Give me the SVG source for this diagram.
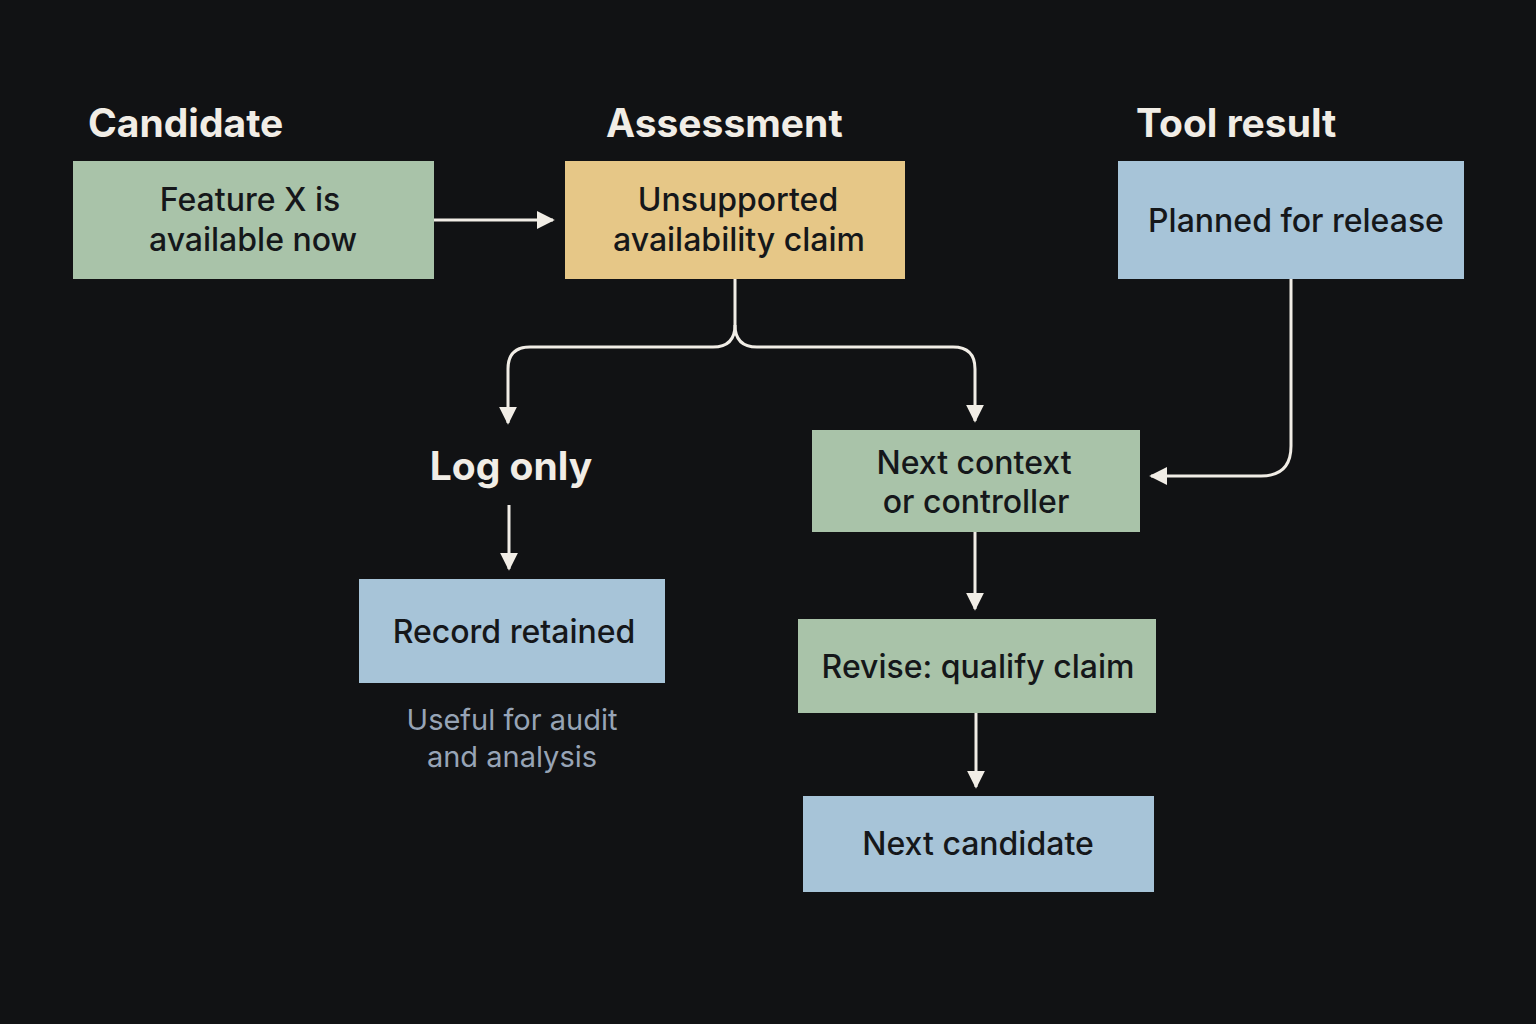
<svg xmlns="http://www.w3.org/2000/svg" width="1536" height="1024" viewBox="0 0 1536 1024">
<style>
.h{font-family:Inter,"Noto Sans",sans-serif;font-weight:700;font-size:39px;fill:#f1ede6}
.t{font-family:Inter,"Noto Sans",sans-serif;font-weight:500;font-size:32px;fill:#15171a;text-anchor:middle}
.s{font-family:Inter,"Noto Sans",sans-serif;font-size:29px;fill:#97a4b6;text-anchor:middle}
.g{fill:#a9c3a9}.y{fill:#e6c787}.b{fill:#a7c4d8}
.c{fill:none;stroke:#f1ede6;stroke-width:3}
</style>
<defs><marker id="a" viewBox="0 0 10 10" refX="9" refY="5" markerWidth="6" markerHeight="6" orient="auto"><path d="M0,0L10,5L0,10z" fill="#f1ede6"/></marker></defs>
<rect width="1536" height="1024" fill="#111214"/>
<text class="h" x="88" y="137">Candidate</text>
<text class="h" x="606" y="137">Assessment</text>
<text class="h" x="1136" y="137">Tool result</text>
<g id="feature"><rect class="g" x="73" y="161" width="361" height="118"/><text class="t" x="250" y="211">Feature X is</text><text class="t" x="253" y="251">available now</text></g>
<g id="assessment"><rect class="y" x="565" y="161" width="340" height="118"/><text class="t" x="738" y="211">Unsupported</text><text class="t" x="739" y="251">availability claim</text></g>
<g id="tool"><rect class="b" x="1118" y="161" width="346" height="118"/><text class="t" x="1296" y="232">Planned for release</text></g>
<g id="log"><text class="h" x="511" y="480" text-anchor="middle">Log only</text></g>
<g id="record"><rect class="b" x="359" y="579" width="306" height="104"/><text class="t" x="514" y="643">Record retained</text></g>
<g id="note"><text class="s" x="512" y="730">Useful for audit</text><text class="s" x="512" y="767">and analysis</text></g>
<g id="nextctx"><rect class="g" x="812" y="430" width="328" height="102"/><text class="t" x="974" y="474">Next context</text><text class="t" x="976" y="513">or controller</text></g>
<g id="revise"><rect class="g" x="798" y="619" width="358" height="94"/><text class="t" x="978" y="678">Revise: qualify claim</text></g>
<g id="nextcand"><rect class="b" x="803" y="796" width="351" height="96"/><text class="t" x="978" y="855">Next candidate</text></g>
<g id="connectors">
<path class="c" d="M434,220H553" marker-end="url(#a)"/>
<path class="c" d="M735,279V325Q735,347 713,347H530Q508,347 508,369V423" marker-end="url(#a)"/>
<path class="c" d="M735,325Q735,347 757,347H953Q975,347 975,369V421" marker-end="url(#a)"/>
<path class="c" d="M1291,279V446Q1291,476 1261,476H1151" marker-end="url(#a)"/>
<path class="c" d="M509,505V569" marker-end="url(#a)"/>
<path class="c" d="M975,532V609" marker-end="url(#a)"/>
<path class="c" d="M976,713V787" marker-end="url(#a)"/>
</g>
</svg>
